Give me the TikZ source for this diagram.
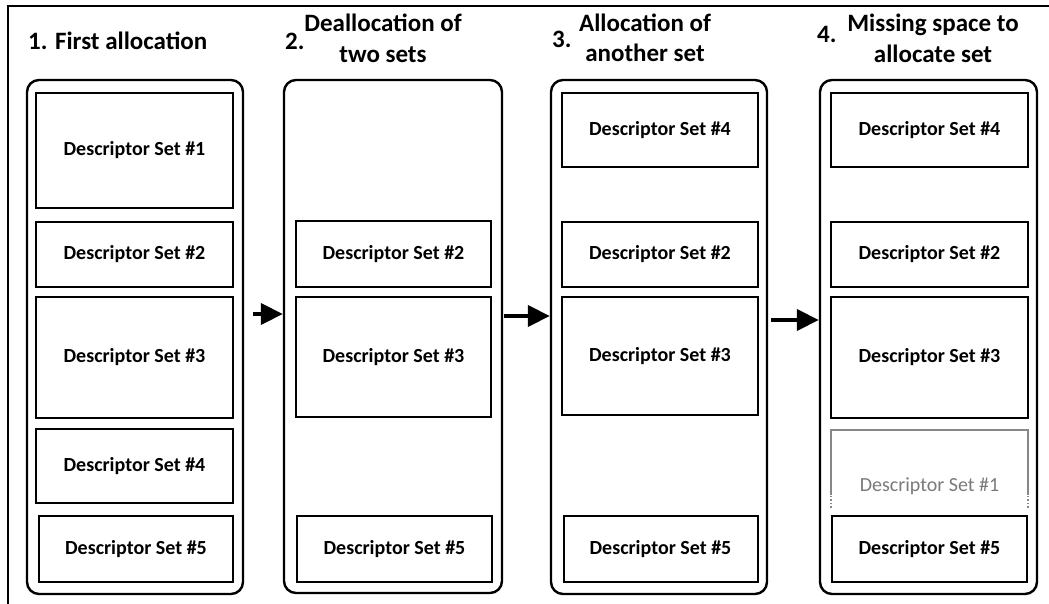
\documentclass[tikz,border=0pt]{standalone}
\usepackage{fontspec}
\setmainfont{Carlito}
\usetikzlibrary{arrows.meta}
\begin{document}
\begin{tikzpicture}[x=1pt,y=-1pt,
  frame/.style={line width=2.2pt,line cap=butt},
  pool/.style={draw,line width=2.4pt,rounded corners=12pt,inner sep=0pt},
  dset/.style 2 args={draw,line width=2pt,inner sep=0pt,
    minimum width=#1pt,minimum height=#2pt,
    font=\fontsize{20}{24}\selectfont\bfseries},
  ghostline/.style={draw=black!47,line width=1.6pt},
  ghosttext/.style={inner sep=0pt,text=black!52,font=\fontsize{20}{24}\selectfont},
  title/.style={inner sep=0pt,anchor=base,font=\fontsize{25}{30}\selectfont\bfseries},
  step arrow/.style={line width=4pt,-{Triangle[length=22pt,width=21pt]}}
]
\useasboundingbox (0,0) rectangle (1049,604);

% outer frame (top and left edges only)
\draw[frame] (8,604) -- (8,6) -- (1049,6);

% headings
\node[title,anchor=base west] (t1) at (28,50) {1. First allocation};
\node[title,anchor=base west] (n2) at (285,50) {2.};
\node[title] (t2a) at (383,32) {Deallocation of};
\node[title] (t2b) at (383,63) {two sets};
\node[title,anchor=base west] (n3) at (552,48) {3.};
\node[title] (t3a) at (645,32) {Allocation of};
\node[title] (t3b) at (645,62) {another set};
\node[title,anchor=base west] (n4) at (817,43) {4.};
\node[title] (t4a) at (933,32) {Missing space to};
\node[title] (t4b) at (933,63) {allocate set};

% descriptor pools
\node[pool,minimum width=216pt,minimum height=514pt] (c1) at (135,337) {};
\node[pool,minimum width=218pt,minimum height=513pt] (c2) at (393,336.5) {};
\node[pool,minimum width=216pt,minimum height=514pt] (c3) at (659,337) {};
\node[pool,minimum width=217pt,minimum height=514pt] (c4) at (928.5,337) {};

% pool 1: first allocation
\node[dset={197}{115}] (p1s1) at (134.5,150.5) {Descriptor Set \#1};
\node[dset={197}{65}]  (p1s2) at (134.5,254.5) {Descriptor Set \#2};
\node[dset={197}{121}] (p1s3) at (134.5,357.5) {Descriptor Set \#3};
\node[dset={197}{74}]  (p1s4) at (134.5,466) {Descriptor Set \#4};
\node[dset={194}{66}]  (p1s5) at (136,549) {Descriptor Set \#5};

% pool 2: after freeing two sets
\node[dset={195}{66}]  (p2s2) at (393.5,254) {Descriptor Set \#2};
\node[dset={195}{120}] (p2s3) at (393.5,357) {Descriptor Set \#3};
\node[dset={195}{66}]  (p2s5) at (394.5,549) {Descriptor Set \#5};

% pool 3: another set allocated
\node[dset={196}{74}]  (p3s4) at (660,130) {Descriptor Set \#4};
\node[dset={196}{65}]  (p3s2) at (660,254.5) {Descriptor Set \#2};
\node[dset={196}{118}] (p3s3) at (660,356) {Descriptor Set \#3};
\node[dset={194}{66}]  (p3s5) at (660.5,549) {Descriptor Set \#5};

% pool 4: no room left for the set
\node[dset={197}{74}]  (p4s4) at (929.5,130) {Descriptor Set \#4};
\node[dset={197}{65}]  (p4s2) at (929.5,254.5) {Descriptor Set \#2};
\node[dset={197}{121}] (p4s3) at (929.5,357.5) {Descriptor Set \#3};
\node[dset={195}{66}]  (p4s5) at (929.5,549) {Descriptor Set \#5};

% set #1 that does not fit
\coordinate (gnw) at (831,430);
\coordinate (gne) at (1028,430);
\coordinate (gsw) at (831,508);
\coordinate (gse) at (1028,508);
\node[ghosttext] (p4s1) at (929.5,486) {Descriptor Set \#1};
\draw[ghostline] ([yshift=13pt]gsw) -- (gnw) -- (gne) -- ([yshift=13pt]gse);
\draw[ghostline,dotted,line width=1.2pt] (gsw) -- ([yshift=13pt]gsw);
\draw[ghostline,dotted,line width=1.2pt] (gse) -- ([yshift=13pt]gse);

% transitions
\coordinate (a1) at (253,314);
\coordinate (a2) at (504,316);
\coordinate (a3) at (771,320);
\draw[step arrow] (a1) -- (a1 -| c2.west);
\draw[step arrow] (a2) -- (a2 -| c3.west);
\draw[step arrow] (a3) -- (a3 -| c4.west);
\end{tikzpicture}
\end{document}
